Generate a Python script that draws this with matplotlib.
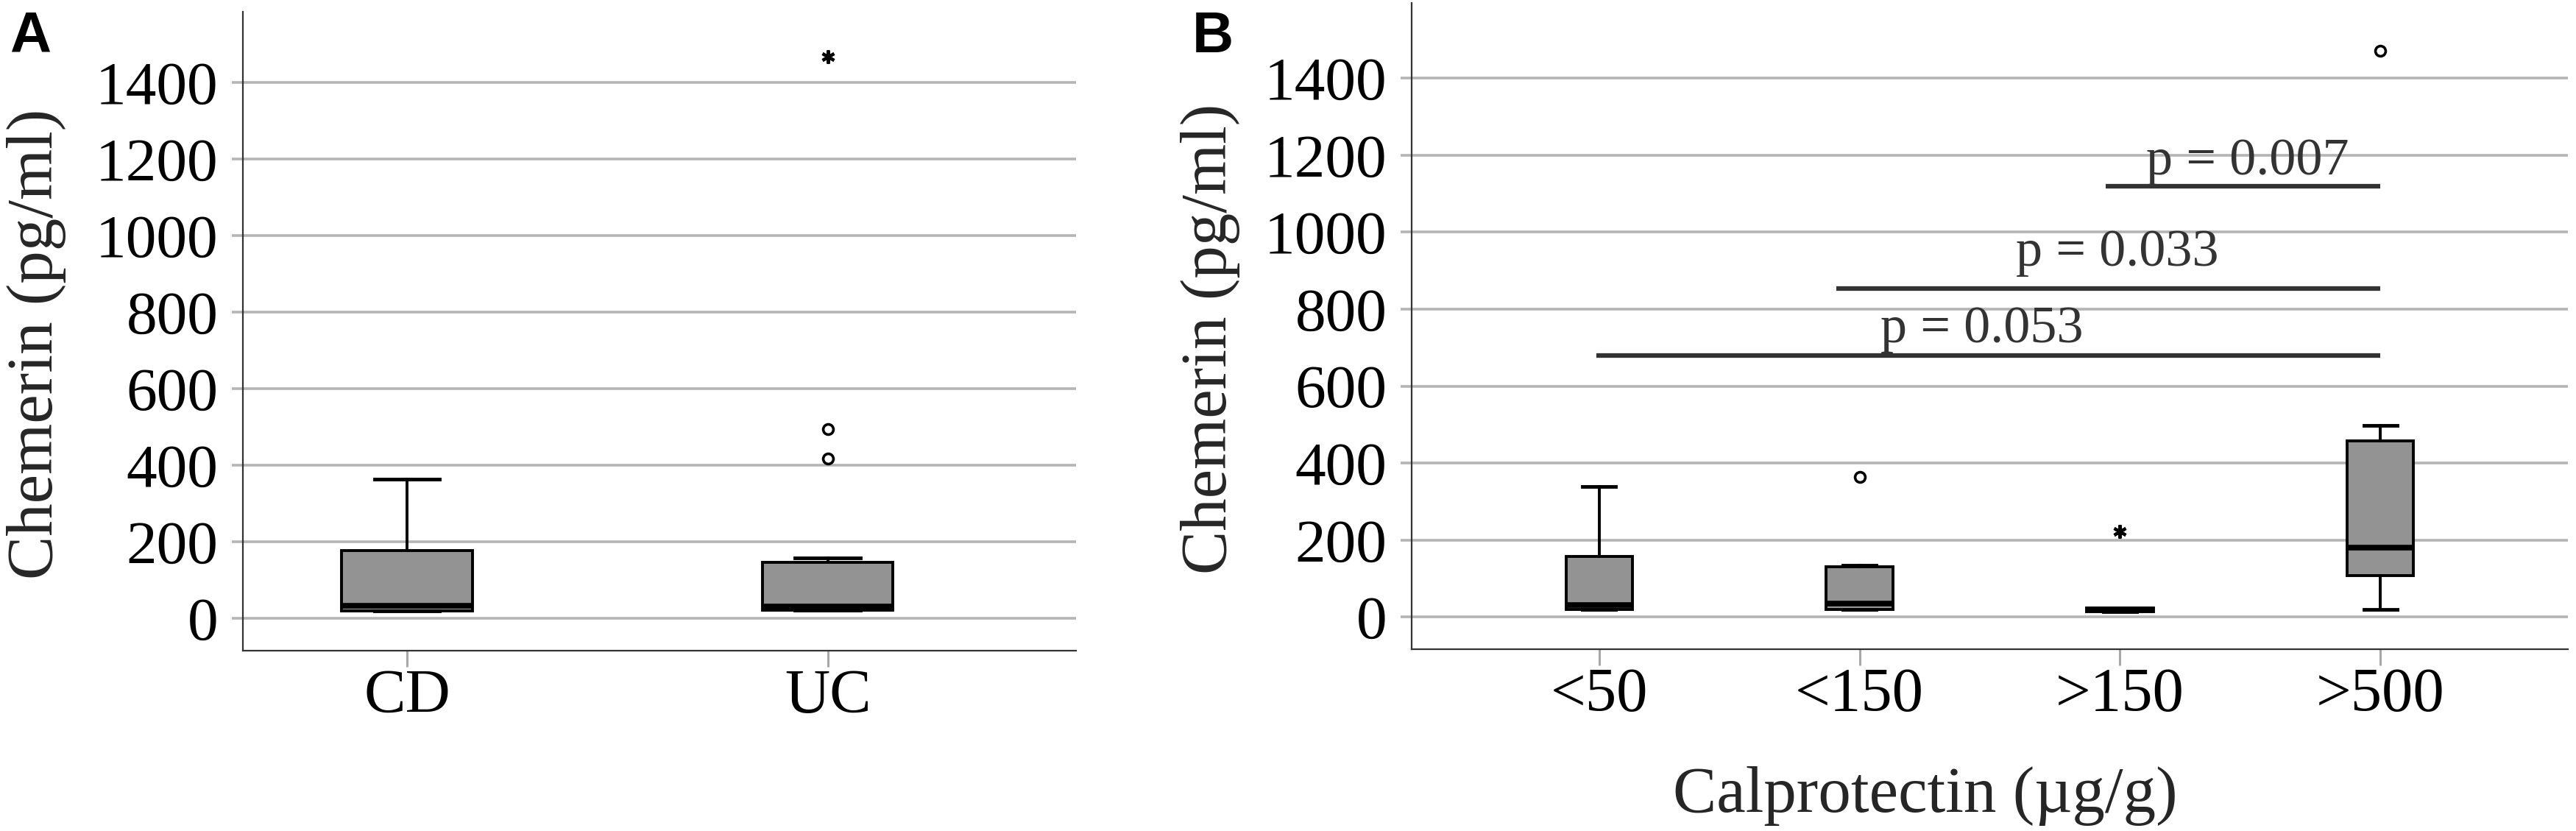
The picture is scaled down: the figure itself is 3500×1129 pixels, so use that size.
import matplotlib
matplotlib.use("Agg")
import matplotlib.pyplot as plt

plt.rcParams['font.family'] = ['Liberation Serif', 'DejaVu Serif']

# ---------------- data ----------------
yticks = [0, 200, 400, 600, 800, 1000, 1200, 1400]

# Panel A
a_cats = ["CD", "UC"]
a_q1 = [19, 20]
a_med = [33, 30]
a_q3 = [177, 145]
a_whislo = [19, 20]
a_whishi = [364, 158]
a_outliers = [[], [417, 494]]      # circles
a_extremes = [[], [1468]]          # stars

# Panel B
b_cats = ["<50", "<150", ">150", ">500"]
b_q1 = [19, 19, 14, 107]
b_med = [31, 35, 19, 180]
b_q3 = [158, 131, 24, 458]
b_whislo = [19, 19, 14, 19]
b_whishi = [339, 135, 24, 498]
b_outliers = [[], [363], [], [1471]]
b_extremes = [[], [], [222], []]

# significance bars (from index, to index, height) and labels
sig_from = [-0.01, 0.91, 1.945]
sig_to = [3.0, 3.0, 3.0]
sig_y = [679, 854, 1120]
sig_text = ["p = 0.053", "p = 0.033", "p = 0.007"]
sig_text_x = [1.47, 1.99, 2.49]
sig_text_y = [713, 913, 1151]

# ---------------- style ----------------
BOX_FC = '#939393'
GRID = '#b4b4b4'
SPINE = '#333333'
TXT = '#262626'

fig = plt.figure(figsize=(35, 11.29), dpi=100)
axA = fig.add_axes([330/3500, 1-884/1129, (1462-330)/3500, (884-16)/1129])
axB = fig.add_axes([1918/3500, 1-882/1129, (3489-1918)/3500, (882-4)/1129])


def draw_panel(ax, cats, q1, med, q3, wlo, whi, outl, extr, width):
    stats = []
    for i in range(len(cats)):
        stats.append(dict(med=med[i], q1=q1[i], q3=q3[i], whislo=wlo[i],
                          whishi=whi[i], fliers=outl[i], label=cats[i]))
    pos = list(range(len(cats)))
    ax.bxp(stats, positions=pos, widths=width, patch_artist=True,
           boxprops=dict(facecolor=BOX_FC, edgecolor='black', linewidth=2.8),
           medianprops=dict(color='black', linewidth=5.5, solid_capstyle='butt'),
           whiskerprops=dict(color='black', linewidth=2.8),
           capprops=dict(color='black', linewidth=3.5),
           flierprops=dict(marker='o', markerfacecolor='white', markeredgecolor='black',
                           markersize=10, markeredgewidth=2.6, linestyle='none'),
           zorder=3)
    for i, ex in enumerate(extr):
        if ex:
            ax.plot([pos[i]] * len(ex), ex, linestyle='none', marker=(6, 2, 0),
                    markersize=13, markeredgewidth=3, color='black', zorder=4)
    ax.set_yticks(yticks)
    ax.set_yticklabels([str(v) for v in yticks])
    ax.yaxis.grid(True, color=GRID, linewidth=2.6)
    ax.xaxis.grid(False)
    ax.set_axisbelow(True)
    for s in ['top', 'right']:
        ax.spines[s].set_visible(False)
    for s in ['left', 'bottom']:
        ax.spines[s].set_color(SPINE)
        ax.spines[s].set_linewidth(1.6)
    ax.tick_params(axis='y', length=11, width=2.6, color=GRID, pad=13,
                   labelsize=60, labelcolor='black')
    ax.tick_params(axis='x', length=16, width=2.2, color='#a8a8a8', pad=2,
                   labelsize=61, labelcolor='black')
    ax.set_ylabel("Chemerin (pg/ml)", fontsize=64, color=TXT)


draw_panel(axA, a_cats, a_q1, a_med, a_q3, a_whislo, a_whishi,
           a_outliers, a_extremes, 0.31)
axA.set_xlim(-0.39, 1.59)
axA.set_ylim(-85, 1585)
axA.yaxis.set_label_coords((90-330)/1132, 0.48)

draw_panel(axB, b_cats, b_q1, b_med, b_q3, b_whislo, b_whishi,
           b_outliers, b_extremes, 0.255)
axB.set_xlim(-0.72, 3.72)
axB.set_ylim(-84, 1596)
axB.yaxis.set_label_coords((1685-1918)/1571, 0.48)

for x0, x1, y in zip(sig_from, sig_to, sig_y):
    axB.plot([x0, x1], [y, y], color='#333333', linewidth=4.5,
             solid_capstyle='butt', zorder=5)
for tx, ty, t in zip(sig_text_x, sig_text_y, sig_text):
    axB.text(tx, ty, t, ha='center', va='baseline', fontsize=52, color='#333333', zorder=6)

xl = axB.set_xlabel("Calprotectin (\u00b5g/g)", fontsize=64, color=TXT)
xl.set_verticalalignment('baseline')
axB.xaxis.set_label_coords(0.444, (882-1103)/878)

fig.text(13/3500, 1-71/1129, "A", fontsize=56, fontweight='bold',
         family=['Liberation Sans', 'DejaVu Sans'], ha='left', va='baseline', color='black')
fig.text(1620/3500, 1-71/1129, "B", fontsize=56, fontweight='bold',
         family=['Liberation Sans', 'DejaVu Sans'], ha='left', va='baseline', color='black')

fig.savefig("out.png", dpi=100, facecolor='white')
